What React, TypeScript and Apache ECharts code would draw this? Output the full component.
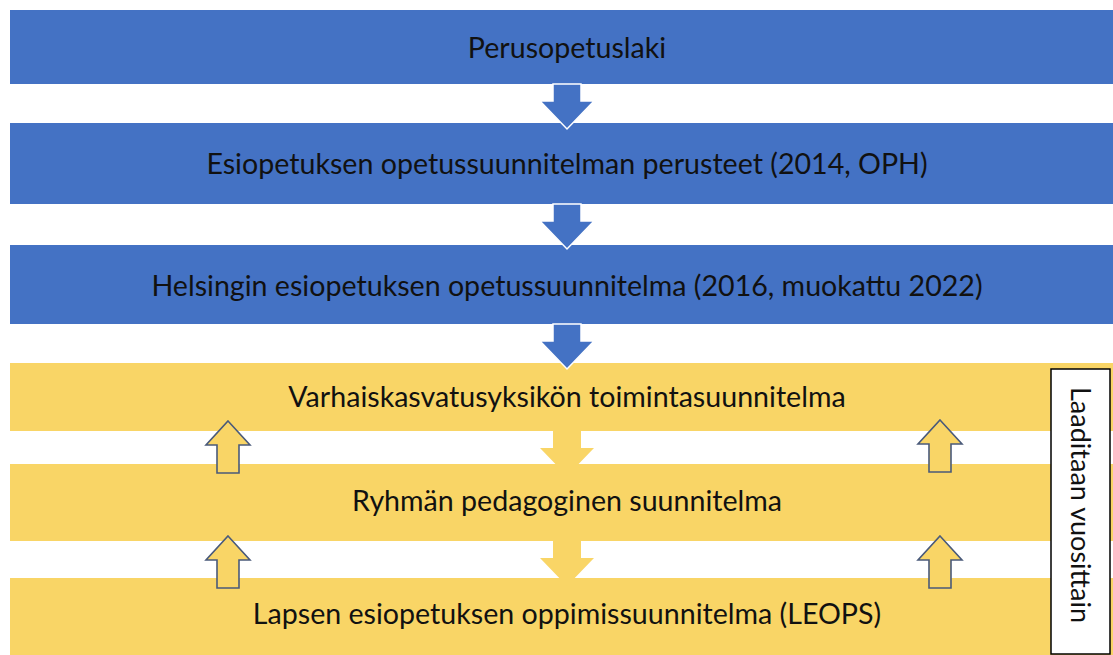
import React, { useEffect, useRef } from "react";
import * as echarts from "echarts";

// Content of the diagram
const blueLevels = [
  "Perusopetuslaki",
  "Esiopetuksen opetussuunnitelman perusteet (2014, OPH)",
  "Helsingin esiopetuksen opetussuunnitelma (2016, muokattu 2022)",
];
const yellowLevels = [
  "Varhaiskasvatusyksikön toimintasuunnitelma",
  "Ryhmän pedagoginen suunnitelma",
  "Lapsen esiopetuksen oppimissuunnitelma (LEOPS)",
];
const sideLabel = "Laaditaan vuosittain";

// Layout (band edges and text centres in px)
const bandTops = [10, 123, 245, 363, 464, 578];
const bandBottoms = [84, 204, 324, 431, 541, 660];
const textCenters = [47, 163, 285, 396, 500, 613];

const BLUE = "#4472C4";
const YELLOW = "#F9D566";
const FONT = "Lato, 'Open Sans', sans-serif";

function downArrow(cx: number, top: number, fill: string, stroke?: string) {
  const headY = top + 17;
  const tipY = top + 45;
  return {
    type: "polygon",
    shape: {
      points: [
        [cx - 14, top],
        [cx + 14, top],
        [cx + 14, headY],
        [cx + 27, headY],
        [cx, tipY],
        [cx - 27, headY],
        [cx - 14, headY],
      ],
    },
    style: { fill, stroke: stroke || "none", lineWidth: stroke ? 1.5 : 0 },
    z: 5,
  };
}

function upArrow(cx: number, tip: number) {
  const base = tip + 24;
  const bottom = tip + 52;
  return {
    type: "polygon",
    shape: {
      points: [
        [cx, tip],
        [cx + 22, base],
        [cx + 11, base],
        [cx + 11, bottom],
        [cx - 11, bottom],
        [cx - 11, base],
        [cx - 22, base],
      ],
    },
    style: { fill: YELLOW, stroke: "#4A5A7A", lineWidth: 1.6 },
    z: 6,
  };
}

export default function App() {
  const ref = useRef<HTMLDivElement>(null);
  useEffect(() => {
    document.body.style.margin = "0";
    const chart = echarts.init(ref.current!, null, { renderer: "svg" });
    const W = 1113;
    const elements: any[] = [];
    const labels = [...blueLevels, ...yellowLevels];
    labels.forEach((label, i) => {
      const isBlue = i < blueLevels.length;
      const top = bandTops[i];
      const bottom = bandBottoms[i];
      elements.push({
        type: "rect",
        shape: { x: 10, y: top, width: W - 10, height: bottom - top },
        style: { fill: isBlue ? BLUE : YELLOW },
        z: 1,
      });
      elements.push({
        type: "text",
        x: 567,
        y: textCenters[i],
        style: {
          text: label,
          fill: "#111",
          font: `28.6px ${FONT}`,
          align: "center",
          verticalAlign: "middle",
        },
        z: 10,
      });
    });
    // blue arrows
    for (let i = 0; i < 3; i++) {
      elements.push(downArrow(567, bandBottoms[i], BLUE, "#ffffff"));
    }
    // yellow down arrows
    for (let i = 3; i < 5; i++) {
      elements.push(downArrow(567, bandBottoms[i], YELLOW));
    }
    // up arrows
    elements.push(upArrow(228, 421));
    elements.push(upArrow(940, 420));
    elements.push(upArrow(228, 536));
    elements.push(upArrow(940, 536));
    // side box
    elements.push({
      type: "rect",
      shape: { x: 1051, y: 369, width: 59, height: 285 },
      style: { fill: "#ffffff", stroke: "#000", lineWidth: 1.5 },
      z: 12,
    });
    elements.push({
      type: "text",
      x: 1081,
      y: 505,
      rotation: -Math.PI / 2,
      style: {
        text: sideLabel,
        fill: "#111",
        font: `27px ${FONT}`,
        align: "center",
        verticalAlign: "middle",
      },
      z: 13,
    });
    chart.setOption({
      animation: false,
      backgroundColor: "#ffffff",
      graphic: { elements },
    });
    return () => chart.dispose();
  }, []);
  return <div ref={ref} style={{ width: 1113, height: 655 }} />;
}
